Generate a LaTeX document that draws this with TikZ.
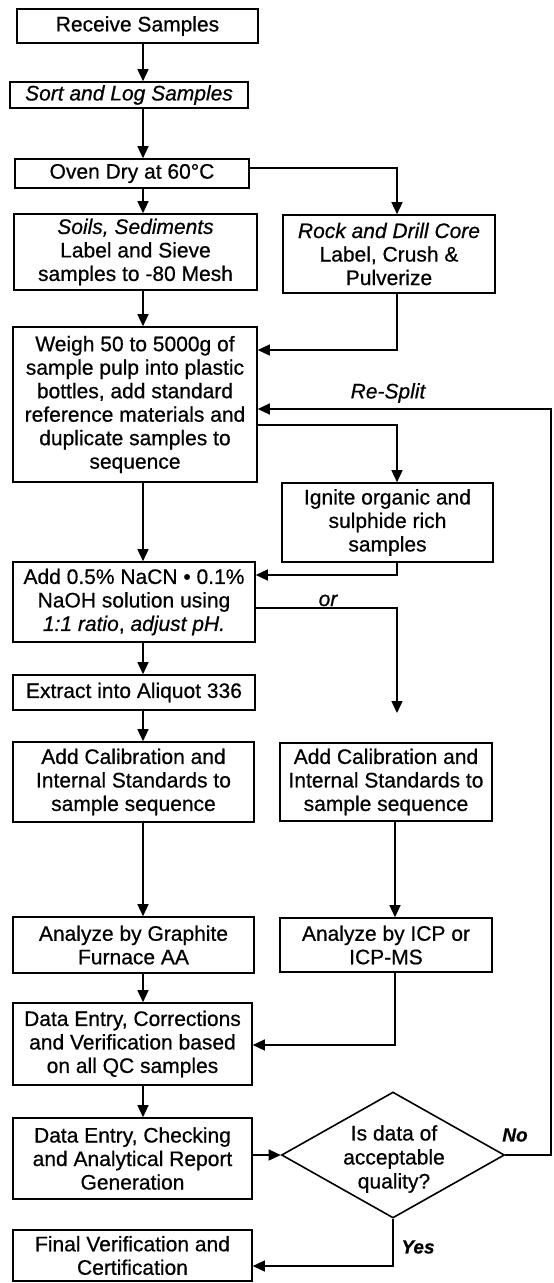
\documentclass[tikz,border=0pt]{standalone}
\usepackage{fontspec}
\setmainfont{Liberation Sans}[FakeBold=0.6]
\usetikzlibrary{shapes.geometric,arrows.meta,calc}
\begin{document}
\begin{tikzpicture}[x=1pt,y=-1pt,
  box/.style={draw, line width=1.6pt, rectangle, inner sep=0pt, align=center,
    font=\fontsize{21}{23.5}\selectfont},
  diam/.style={draw, line width=1.6pt, diamond, inner sep=0pt},
  txt/.style={inner sep=0pt, align=center, font=\fontsize{21}{24}\selectfont},
  conn/.style={line width=1.4pt},
  arr/.style={conn, -{Triangle[length=12pt,width=11pt]}},
  lbl/.style={inner sep=0pt, font=\fontsize{21}{23.5}\selectfont\itshape},
  yn/.style={inner sep=0pt, font=\fontsize{19}{21}\selectfont\bfseries\itshape}]
\fill[white] (0,0) rectangle (554,1283);
\useasboundingbox (0,0) rectangle (554,1283);

% left column
\node[box, minimum width=241pt, minimum height=34pt] (recv) at (137.5,26) {Receive Samples};
\node[box, minimum width=238pt, minimum height=26pt] (sort) at (129,95) {\textit{Sort and Log Samples}};
\node[box, minimum width=234pt, minimum height=29pt] (oven) at (132,173.5) {Oven Dry at 60°C};
\node[box, minimum width=243pt, minimum height=76pt] (soils) at (135.5,252) {\textit{Soils, Sediments}\\Label and Sieve\\samples to -80 Mesh};
\node[box, minimum width=244pt, minimum height=155pt] (weigh) at (135,404.5) {Weigh 50 to 5000g of\\sample pulp into plastic\\bottles, add standard\\reference materials and\\duplicate samples to\\sequence};
\node[box, minimum width=242pt, minimum height=80pt] (nacn) at (134,602) {Add 0.5\% NaCN • 0.1\%\\NaOH solution using\\\textit{1:1 ratio}, \textit{adjust pH.}};
\node[box, minimum width=242pt, minimum height=35pt] (extract) at (134,692.5) {Extract into Aliquot 336};
\node[box, minimum width=241pt, minimum height=80pt] (cal1) at (133.5,782) {Add Calibration and\\Internal Standards to\\sample sequence};
\node[box, minimum width=241pt, minimum height=56pt] (gf) at (133.5,945) {Analyze by Graphite\\Furnace AA};
\node[box, minimum width=239pt, minimum height=82pt] (corr) at (132.5,1044) {Data Entry, Corrections\\and Verification based\\on all QC samples};
\node[box, minimum width=239pt, minimum height=81pt] (check) at (132.5,1158.5) {Data Entry, Checking\\and Analytical Report\\Generation};
\node[box, minimum width=239pt, minimum height=51pt] (final) at (132.5,1255.5) {Final Verification and\\Certification};

% right column
\node[box, minimum width=212pt, minimum height=78pt] (rock) at (389,254) {\textit{Rock and Drill Core}\\Label, Crush \&\\Pulverize};
\node[box, minimum width=211pt, minimum height=79pt] (ignite) at (387.5,522.5) {Ignite organic and\\sulphide rich\\samples};
\node[box, minimum width=212pt, minimum height=78pt] (cal2) at (386,782) {Add Calibration and\\Internal Standards to\\sample sequence};
\node[box, minimum width=212pt, minimum height=54pt] (icp) at (386,945) {Analyze by ICP or\\ICP-MS};
\node[diam, minimum width=223pt, minimum height=126pt] (dia) at (393,1155) {};
\node[txt] (diatext) at (394,1159) {Is data of\\acceptable\\quality?};

% reference x positions
\coordinate (L) at (143,0);
\coordinate (R) at (397,0);
\coordinate (R2) at (395,0);
\coordinate (RE) at (551,0);
\coordinate (orend) at (397,713);

% left column arrows
\draw[arr] (recv.south -| L) -- (sort.north -| L);
\draw[arr] (sort.south -| L) -- (oven.north -| L);
\draw[arr] (oven.south -| L) -- (soils.north -| L);
\draw[arr] (soils.south -| L) -- (weigh.north -| L);
\draw[arr] (weigh.south -| L) -- (nacn.north -| L);
\draw[arr] (nacn.south -| L) -- (extract.north -| L);
\draw[arr] (extract.south -| L) -- (cal1.north -| L);
\draw[arr] (cal1.south -| L) -- (gf.north -| L);
\draw[arr] (gf.south -| L) -- (corr.north -| L);
\draw[arr] (corr.south -| L) -- (check.north -| L);

% branches
\draw[arr] (oven.east |- 0,168) -| (rock.north -| R);
\draw[arr] (rock.south -| R) |- (weigh.east |- 0,350);
\draw[arr] (weigh.east |- 0,425) -| (ignite.north -| R);
\draw[arr] (ignite.south -| R) |- (nacn.east |- 0,575);
\draw[arr] (nacn.east |- 0,608) -| (orend);
\node[lbl, anchor=base] (orlbl) at (328,606) {or};
\draw[arr] (cal2.south -| R2) -- (icp.north -| R2);
\draw[arr] (icp.south -| R2) |- (corr.east |- 0,1045);
\draw[arr] (check.east |- dia.west) -- (dia.west);
\draw[arr] (dia.east) -- (dia.east -| RE) -- (RE |- 0,409) -- (weigh.east |- 0,409);
\node[lbl] (resplit) at (388,393) {Re-Split};
\node[yn] (no) at (515,1135) {No};
\draw[arr] (dia.south) |- (final.east |- 0,1266);
\node[yn] (yes) at (418,1247) {Yes};
\end{tikzpicture}
\end{document}
